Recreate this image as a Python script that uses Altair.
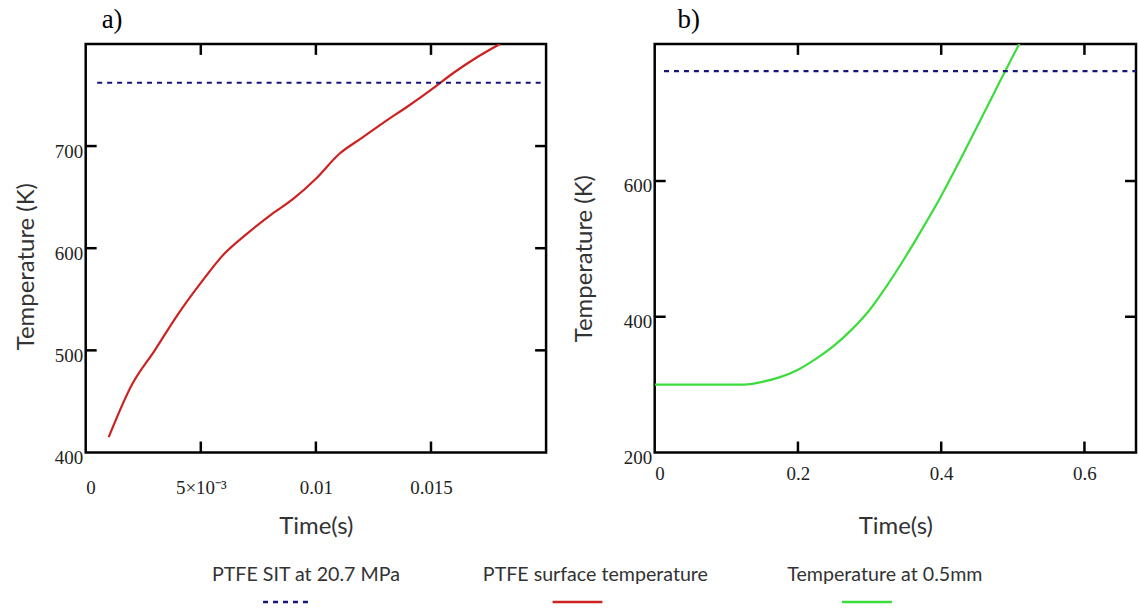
import altair as alt
import pandas as pd

# ---------------- data ----------------
# a) PTFE surface temperature (red)
surf_time = [0.001, 0.002, 0.003, 0.004, 0.005, 0.006, 0.007, 0.008, 0.009,
             0.010, 0.011, 0.012, 0.013, 0.014, 0.015, 0.016, 0.017, 0.018]
surf_temp = [415, 466, 500, 535, 566, 594, 614, 632, 648,
             668, 692, 708, 724, 739, 755, 772, 787, 800]

# b) temperature at 0.5 mm depth (green)
depth_time = [0.0, 0.125, 0.15, 0.175, 0.2, 0.225, 0.25, 0.275, 0.3, 0.325,
              0.35, 0.375, 0.4, 0.425, 0.45, 0.475, 0.5, 0.51]
depth_temp = [300, 300, 304, 311, 322, 338, 357, 381, 410, 447,
              488, 532, 578, 628, 680, 732, 784, 804]

# PTFE spontaneous ignition temperature at 20.7 MPa
sit_temp = 762
sit_time_a = [0.0005, 0.02]
sit_time_b = [0.013, 0.672]

# axes
a_x_domain = [0, 0.02]
a_y_domain = [400, 800]
a_x_labels = [0, 0.005, 0.01, 0.015]
a_y_labels = [400, 500, 600, 700]
a_x_ticks = [0.005, 0.01, 0.015]
a_y_ticks = [500, 600, 700]

b_x_domain = [0, 0.672]
b_y_domain = [200, 802]
b_x_labels = [0, 0.2, 0.4, 0.6]
b_y_labels = [200, 400, 600]
b_x_ticks = [0.2, 0.4, 0.6]
b_y_ticks = [400, 600]

legend_labels = ["PTFE SIT at 20.7 MPa", "PTFE surface temperature", "Temperature at 0.5mm"]
legend_colors = ["#14147a", "#cc2222", "#3ddc3d"]

SERIF = "Liberation Serif"
SANS = "Lato"
TICK = 11


def panel(times, temps, color, sit_times, xdom, ydom, xlabels, ylabels,
          xticks, yticks, W, H, letter, letter_dx, xlabpad, ytitle_x, ytitle_y,
          xlabel_expr):
    xs = alt.Scale(domain=xdom, nice=False, zero=False)
    ys = alt.Scale(domain=ydom, nice=False, zero=False)
    xaxis = alt.Axis(values=xlabels, format="~g", title="Time(s)",
                     labelPadding=xlabpad, labelFlush=True, labelExpr=xlabel_expr,
                     titleY=74, titleBaseline="middle")
    yaxis = alt.Axis(values=ylabels, title="Temperature (K)", labelPadding=3,
                     labelOffset=5, titleX=ytitle_x, titleY=ytitle_y,
                     titleBaseline="middle", titleAlign="center")

    curve = alt.Chart(pd.DataFrame({"t": times, "T": temps})).mark_line(
        color=color, strokeWidth=2.2, clip=True, interpolate="monotone"
    ).encode(x=alt.X("t:Q", scale=xs, axis=xaxis),
             y=alt.Y("T:Q", scale=ys, axis=yaxis))

    sit = alt.Chart(pd.DataFrame({"t": sit_times, "T": [sit_temp] * len(sit_times)})).mark_line(
        color=legend_colors[0], strokeWidth=2.2, strokeDash=[5, 5], clip=True
    ).encode(x=alt.X("t:Q", scale=xs), y=alt.Y("T:Q", scale=ys))

    xt = pd.DataFrame({"t": xticks})
    yt = pd.DataFrame({"T": yticks})
    tick_style = dict(color="black", strokeWidth=2.5)
    bottom = alt.Chart(xt).mark_rule(**tick_style).encode(
        x=alt.X("t:Q", scale=xs), y=alt.value(H), y2=alt.value(H - TICK))
    top = alt.Chart(xt).mark_rule(**tick_style).encode(
        x=alt.X("t:Q", scale=xs), y=alt.value(0), y2=alt.value(TICK))
    left = alt.Chart(yt).mark_rule(**tick_style).encode(
        y=alt.Y("T:Q", scale=ys), x=alt.value(0), x2=alt.value(TICK))
    right = alt.Chart(yt).mark_rule(**tick_style).encode(
        y=alt.Y("T:Q", scale=ys), x=alt.value(W), x2=alt.value(W - TICK))

    return alt.layer(curve, sit, bottom, top, left, right).properties(
        width=W, height=H,
        title=alt.TitleParams(letter, anchor="start", frame="group", dx=letter_dx,
                              font=SERIF, fontSize=27, fontWeight="normal",
                              color="black", baseline="alphabetic", offset=-12),
    )


pa = panel(surf_time, surf_temp, legend_colors[1], sit_time_a, a_x_domain, a_y_domain,
           a_x_labels, a_y_labels, a_x_ticks, a_y_ticks, 462, 410, "a)", 16, 26, -59, 223,
           "abs(datum.value - 0.005) < 1e-9 ? '5×10⁻³' : datum.label")
pb = panel(depth_time, depth_temp, legend_colors[2], sit_time_b, b_x_domain, b_y_domain,
           b_x_labels, b_y_labels, b_x_ticks, b_y_ticks, 483, 410, "b)", 23, 12, -70, 215,
           "datum.label")

ldf = pd.DataFrame({"label": legend_labels})
lx = alt.X("label:N", sort=legend_labels,
           scale=alt.Scale(type="point", domain=legend_labels, range=[221, 802], padding=0),
           axis=None)
ltext = alt.Chart(ldf).mark_text(font=SANS, fontSize=19.7, color="#333333", baseline="middle").encode(
    x=lx, y=alt.value(12), text="label:N")
lsym = alt.Chart(ldf).mark_rule(strokeWidth=2.5, xOffset=-43, x2Offset=7).encode(
    x=lx, x2=alt.X2("label:N"), y=alt.value(39),
    color=alt.Color("label:N", scale=alt.Scale(domain=legend_labels, range=legend_colors), legend=None),
    strokeDash=alt.StrokeDash("label:N", scale=alt.Scale(domain=legend_labels,
                                                          range=[[5, 5], [1, 0], [1, 0]]), legend=None))
legend = alt.layer(ltext, lsym).properties(
    width=900, height=45, view=alt.ViewBackground(stroke="transparent"))

chart = alt.vconcat(
    alt.hconcat(pa, pb, spacing=109, bounds="flush").resolve_scale(x="independent", y="independent"),
    legend, spacing=521, bounds="flush"
).properties(
    padding={"left": 13, "top": 3, "right": 0, "bottom": 0},
    background="white",
).configure_view(stroke="black", strokeWidth=2.5
).configure_axis(domain=False, ticks=False, grid=False,
                 labelFont=SERIF, labelFontSize=19, labelColor="#222222",
                 titleFont=SANS, titleFontSize=24, titleFontWeight="normal", titleColor="#333333")

chart.save("out.html", embed_options={"renderer": "svg", "actions": False})
